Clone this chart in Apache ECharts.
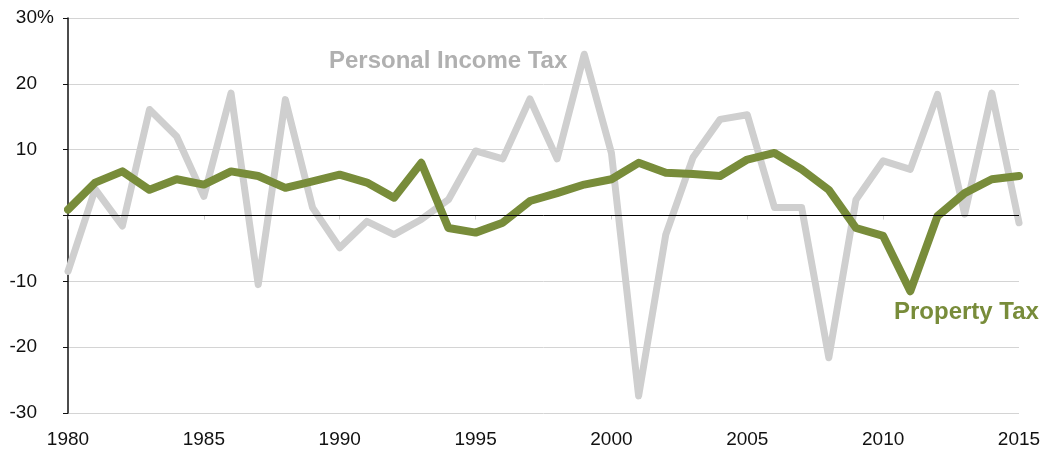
<!DOCTYPE html>
<html>
<head>
<meta charset="utf-8">
<script src="https://cdn.jsdelivr.net/npm/echarts@6/dist/echarts.min.js"></script>
<style>
  html, body { margin: 0; padding: 0; background: #fff; }
  #chart { width: 1047px; height: 453px; }
</style>
</head>
<body>
<div id="chart"></div>
<script>
// years 1980..2015
var years = []
for (var y = 1980; y <= 2015; y++) years.push(y)

// annual % change
var personalIncomeTax = [-8.5, 4.0, -1.6, 16.1, 12.0, 2.9, 18.6, -10.5, 17.6, 1.2,
  -4.9, -0.9, -2.9, -0.6, 2.4, 9.8, 8.6, 17.7, 8.6, 24.5,
  9.5, -27.4, -2.9, 8.8, 14.6, 15.3, 1.2, 1.2, -21.6, 2.4,
  8.3, 7.0, 18.4, 0.2, 18.6, -1.1]
var propertyTax = [0.9, 5.0, 6.7, 3.9, 5.5, 4.7, 6.7, 6.0, 4.2, 5.2,
  6.2, 5.0, 2.7, 8.0, -1.9, -2.6, -1.1, 2.2, 3.4, 4.7,
  5.5, 8.0, 6.5, 6.3, 6.0, 8.5, 9.5, 7.0, 3.9, -1.9,
  -3.1, -11.5, -0.1, 3.4, 5.5, 6.0]

function pairs (vals) {
  return vals.map(function (v, i) { return [years[i], v] })
}

var chart = echarts.init(document.getElementById('chart'))
var font = 'Liberation Sans, Helvetica, Arial, sans-serif'

chart.setOption({
  animation: false,
  grid: { left: 68, right: 28, top: 18, bottom: 40 },
  xAxis: {
    type: 'value',
    min: 1980,
    max: 2015,
    interval: 5,
    axisLine: { show: true, lineStyle: { color: '#cfcfcf', width: 1 } },
    axisTick: { show: true, length: 4, inside: false, lineStyle: { color: '#cfcfcf' } },
    axisLabel: {
      color: '#111', fontSize: 19, fontFamily: font, margin: 17,
      formatter: function (v) { return String(v) }
    },
    splitLine: { show: false }
  },
  yAxis: {
    type: 'value',
    min: -30,
    max: 30,
    interval: 10,
    axisLine: { show: true, lineStyle: { color: '#111', width: 1.5 } },
    axisTick: { show: true, length: 5, lineStyle: { color: '#111' } },
    axisLabel: {
      color: '#111', fontSize: 19, fontFamily: font, margin: 31,
      formatter: function (v) { return v === 0 ? '' : String(v) }
    },
    splitLine: { show: true, lineStyle: { color: '#d4d4d4', width: 1 } }
  },
  series: [
    {
      name: 'Personal Income Tax',
      type: 'line',
      data: pairs(personalIncomeTax),
      showSymbol: false,
      lineStyle: { color: '#cfcfcf', width: 7, cap: 'round', join: 'round' },
      z: 2,
      markLine: {
        silent: true,
        symbol: 'none',
        label: { show: false },
        lineStyle: { color: '#000', width: 1, type: 'solid' },
        data: [{ yAxis: 0 }]
      }
    },
    {
      name: 'Property Tax',
      type: 'line',
      data: pairs(propertyTax),
      showSymbol: false,
      lineStyle: { color: '#788c3a', width: 8, cap: 'round', join: 'round' },
      z: 3
    }
  ],
  graphic: [
    {
      // percent sign hanging after the top tick label
      type: 'text',
      left: 37,
      top: 8,
      style: { text: '%', fill: '#111', font: '19px ' + font }
    },
    {
      type: 'text',
      left: 329,
      top: 49,
      style: { text: 'Personal Income Tax', fill: '#b0b0b0', font: 'bold 24px ' + font }
    },
    {
      type: 'text',
      left: 894,
      top: 300,
      style: { text: 'Property Tax', fill: '#788c3a', font: 'bold 24px ' + font }
    }
  ]
})
</script>
</body>
</html>
